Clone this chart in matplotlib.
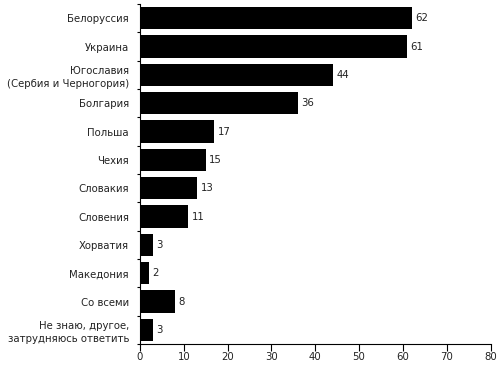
import matplotlib
matplotlib.use("Agg")
import matplotlib.pyplot as plt
import numpy as np

categories = ["Белоруссия", "Украина", "Югославия\n(Сербия и Черногория)", "Болгария",
              "Польша", "Чехия", "Словакия", "Словения", "Хорватия", "Македония",
              "Со всеми", "Не знаю, другое,\nзатрудняюсь ответить"]
values = [62, 61, 44, 36, 17, 15, 13, 11, 3, 2, 8, 3]
xticks = [0, 10, 20, 30, 40, 50, 60, 70, 80]

plt.rcParams['font.family'] = ['DejaVu Sans']
FS = 7.3
fig = plt.figure(figsize=(5, 3.66), dpi=100)
ax = fig.add_axes([0.28, 0.060, 0.701, 0.929])

y = np.arange(len(categories))
ax.barh(y, values, height=0.78, color='black')
for yi, v in zip(y, values):
    ax.annotate(str(v), (v, yi), xytext=(2.5, 0), textcoords='offset points',
                va='center', ha='left', fontsize=FS, color='#222222')

ax.set_ylim(len(categories) - 0.5, -0.5)
ax.set_xlim(0, 80)
ax.set_yticks(y)
ax.set_yticklabels(categories, fontsize=FS, linespacing=1.35, color='#222222')
ax.tick_params(axis='y', length=0, pad=8)
ax.set_yticks(np.arange(-0.5, len(categories), 1), minor=True)
ax.tick_params(axis='y', which='minor', length=2.5, width=0.8, direction='out')
ax.set_xticks(xticks)
ax.tick_params(axis='x', length=5, width=0.8, labelsize=FS, pad=1, labelcolor='#222222')
for s in ['top', 'right']:
    ax.spines[s].set_visible(False)
for s in ['left', 'bottom']:
    ax.spines[s].set_linewidth(0.8)

fig.savefig("out.png", dpi=100)
